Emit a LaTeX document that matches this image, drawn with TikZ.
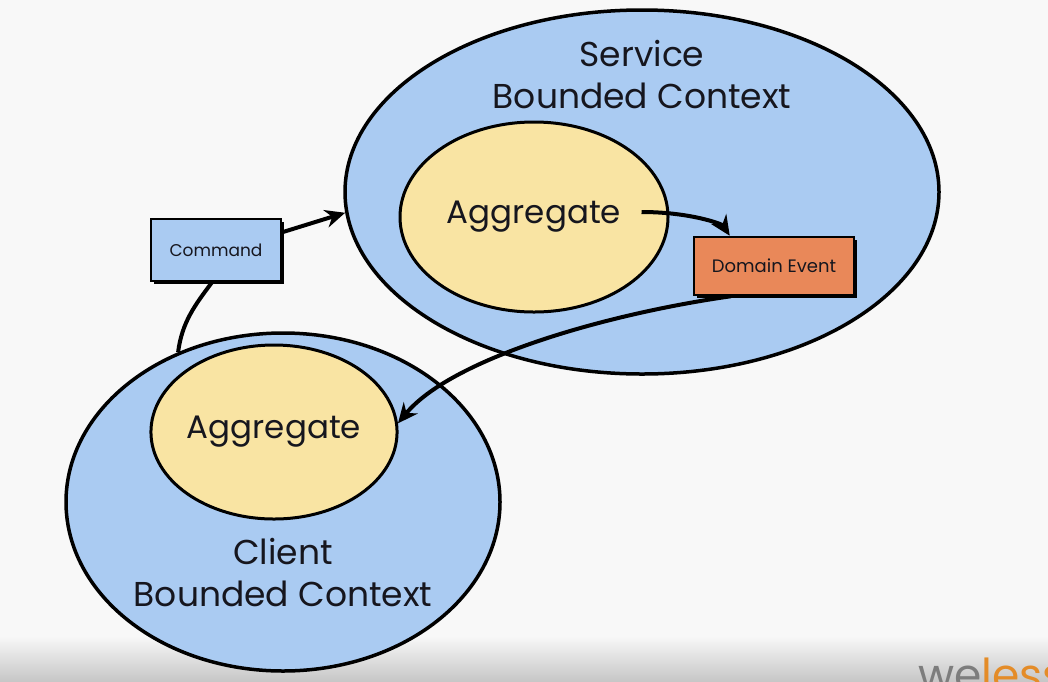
\documentclass[tikz,border=0pt]{standalone}
\usepackage{fontspec}
\setmainfont{Poppins}
\usetikzlibrary{arrows.meta,calc,positioning,shapes.geometric,shadows}
\definecolor{ctxblue}{RGB}{170,203,242}
\definecolor{aggyellow}{RGB}{249,228,163}
\definecolor{evtorange}{RGB}{233,136,89}
\definecolor{slidebg}{RGB}{248,248,248}
\definecolor{inkdark}{RGB}{22,22,30}
\definecolor{logogray}{RGB}{125,125,125}
\definecolor{logoorange}{RGB}{228,140,40}
\tikzset{
  ctx/.style  = {ellipse, draw, line width=3.5pt, fill=ctxblue, inner sep=0pt},
  agg/.style  = {ellipse, draw, line width=3pt, fill=aggyellow, inner sep=0pt,
                 text=inkdark, font=\fontsize{32.5}{36}\selectfont},
  msg/.style  = {draw, line width=2.5pt, inner sep=0pt, text=inkdark,
                 drop shadow={shadow xshift=3pt, shadow yshift=-3pt, fill=black, opacity=1}},
  lbl/.style  = {align=center, text=inkdark, font=\fontsize{34.5}{42}\selectfont},
  flow/.style = {-{Stealth[length=20pt,width=18pt]}, line width=4pt},
  link/.style = {line width=4pt},
}

\begin{document}
\begin{tikzpicture}[x=1pt,y=-1pt]
 \useasboundingbox (0,0) rectangle (1048,681);
 \clip (0,0) rectangle (1048,681);
 \fill[slidebg] (0,0) rectangle (1048,681);
 \shade[top color=slidebg, bottom color=black!22] (0,636) rectangle (1048,681);
 % bounded contexts
 \node[ctx, minimum width=594pt, minimum height=364pt] (serv) at (642,192) {};
 \node[ctx, minimum width=434pt, minimum height=338pt] (client) at (283,502) {};
 \node[lbl] (servlbl) at (642,75) {Service\\Bounded Context};
 \node[lbl] (clientlbl) at (283,573) {Client\\Bounded Context};
 % aggregates
 \node[agg, minimum width=268pt, minimum height=190pt] (sagg) at (534,217) {Aggregate};
 \node[agg, minimum width=246pt, minimum height=174pt] (cagg) at (274,432) {Aggregate};
 % messages
 \node[msg, fill=ctxblue, minimum width=130pt, minimum height=62pt,
       font=\fontsize{17}{20}\selectfont] (cmd) at (216,250) {Command};
 \node[msg, fill=evtorange, minimum width=160pt, minimum height=58pt,
       font=\fontsize{18}{21}\selectfont] (event) at (774,266) {Domain Event};
 % connectors
 \draw[flow] (cmd.15) -- (serv.184);
 \draw[link] (cmd.-97) .. controls (195,305) and (182,322) .. (client.125);
 \draw[flow] ([xshift=-28pt,yshift=5pt]sagg.east) .. controls (690,212) and (722,224)
       .. ([xshift=37pt]event.north west);
 \draw[flow] (event.215) .. controls (600,315) and (450,360) .. (cagg.4);
 % logo
 \node[anchor=base west, inner sep=0pt, font=\fontsize{44}{44}\selectfont] (logo) at (918,690)
   {\textcolor{logogray}{we}\textcolor{logoorange}{less}};
\end{tikzpicture}
\end{document}
